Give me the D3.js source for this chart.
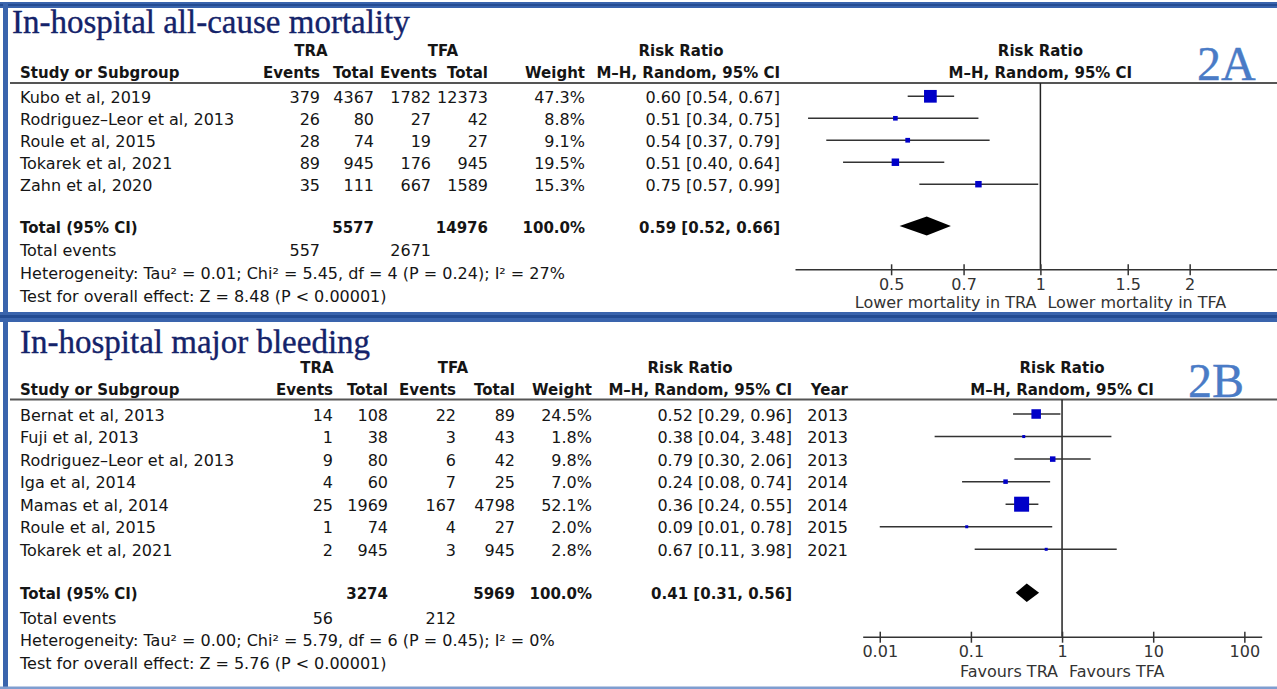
<!DOCTYPE html>
<html>
<head>
<meta charset="utf-8">
<script src="https://cdn.jsdelivr.net/npm/d3@7"></script>
<style>
  body { margin: 0; background: #fff; }
  svg { display: block; font-family: "DejaVu Sans", sans-serif; }
</style>
</head>
<body>
<div id="chart"></div>
<script>
// ---- Panel A: in-hospital all-cause mortality ----
const studiesA = ["Kubo et al, 2019", "Rodriguez–Leor et al, 2013", "Roule et al, 2015", "Tokarek et al, 2021", "Zahn et al, 2020"];
const traEventsA = [379, 26, 28, 89, 35];
const traTotalA = [4367, 80, 74, 945, 111];
const tfaEventsA = [1782, 27, 19, 176, 667];
const tfaTotalA = [12373, 42, 27, 945, 1589];
const weightA = [47.3, 8.8, 9.1, 19.5, 15.3];
const rrA = [0.60, 0.51, 0.54, 0.51, 0.75];
const lowA = [0.54, 0.34, 0.37, 0.40, 0.57];
const highA = [0.67, 0.75, 0.79, 0.64, 0.99];
const pooledA = [0.59, 0.52, 0.66];          // RR, low, high
const totalsA = [5577, 14976];               // TRA total, TFA total
const totalEventsA = [557, 2671];
const hetA = "Heterogeneity: Tau² = 0.01; Chi² = 5.45, df = 4 (P = 0.24); I² = 27%";
const testA = "Test for overall effect: Z = 8.48 (P < 0.00001)";
const ticksA = [0.5, 0.7, 1, 1.5, 2];
const axisDomainA = [0.32, 3];
const favoursA = ["Lower mortality in TRA", "Lower mortality in TFA"];

// ---- Panel B: in-hospital major bleeding ----
const studiesB = ["Bernat et al, 2013", "Fuji et al, 2013", "Rodriguez–Leor et al, 2013", "Iga et al, 2014", "Mamas et al, 2014", "Roule et al, 2015", "Tokarek et al, 2021"];
const traEventsB = [14, 1, 9, 4, 25, 1, 2];
const traTotalB = [108, 38, 80, 60, 1969, 74, 945];
const tfaEventsB = [22, 3, 6, 7, 167, 4, 3];
const tfaTotalB = [89, 43, 42, 25, 4798, 27, 945];
const weightB = [24.5, 1.8, 9.8, 7.0, 52.1, 2.0, 2.8];
const rrB = [0.52, 0.38, 0.79, 0.24, 0.36, 0.09, 0.67];
const lowB = [0.29, 0.04, 0.30, 0.08, 0.24, 0.01, 0.11];
const highB = [0.96, 3.48, 2.06, 0.74, 0.55, 0.78, 3.98];
const yearB = [2013, 2013, 2013, 2014, 2014, 2015, 2021];
const pooledB = [0.41, 0.31, 0.56];
const totalsB = [3274, 5969];
const totalEventsB = [56, 212];
const hetB = "Heterogeneity: Tau² = 0.00; Chi² = 5.79, df = 6 (P = 0.45); I² = 0%";
const testB = "Test for overall effect: Z = 5.76 (P < 0.00001)";
const ticksB = [0.01, 0.1, 1, 10, 100];
const axisDomainB = [0.0065, 155];
const favoursB = ["Favours TRA", "Favours TFA"];

const W = 1277, H = 689;
const FS = 16, FS_BOLD = 15;
const TEXT = "#151515";

const svg = d3.select("#chart").append("svg")
    .attr("width", W)
    .attr("height", H);

const f2 = d3.format(".2f");
const ciText = (r, l, h) => `${f2(r)} [${f2(l)}, ${f2(h)}]`;

function txt(g, x, y, s, anchor, bold) {
    return g.append("text")
        .attr("x", x)
        .attr("y", y)
        .attr("text-anchor", anchor || "start")
        .attr("font-size", bold ? FS_BOLD : FS)
        .attr("font-weight", bold ? "bold" : "normal")
        .attr("fill", TEXT)
        .text(s);
}

function drawPanel(p) {
    const g = svg.append("g");

    // title + panel tag
    g.append("text")
        .attr("x", p.titleX).attr("y", p.titleY)
        .attr("font-family", "'Liberation Serif', 'Times New Roman', serif")
        .attr("font-size", 33)
        .attr("fill", "#14236a")
        .attr("stroke", "#14236a").attr("stroke-width", 0.35)
        .text(p.title);
    g.append("text")
        .attr("x", p.tagX).attr("y", p.tagY)
        .attr("font-family", "'Liberation Serif', 'Times New Roman', serif")
        .attr("font-size", 48)
        .attr("fill", "#4a7bc6")
        .attr("stroke", "#4a7bc6").attr("stroke-width", 0.4)
        .text(p.tag);

    const c = p.cols;
    const x = d3.scaleLog().domain(p.axisDomain).range(p.axisRange);
    const x1 = x(1);

    // header rows
    const h1 = p.headY, h2 = p.headY + 22;
    txt(g, c.traLabel, h1, "TRA", "middle", true);
    txt(g, c.tfaLabel, h1, "TFA", "middle", true);
    txt(g, c.rrLabel, h1, "Risk Ratio", "middle", true);
    txt(g, x1, h1, "Risk Ratio", "middle", true);
    txt(g, 20, h2, "Study or Subgroup", "start", true);
    txt(g, c.ev1, h2, "Events", "end", true);
    txt(g, c.tot1, h2, "Total", "end", true);
    txt(g, c.ev2Head, h2, "Events", "end", true);
    txt(g, c.tot2, h2, "Total", "end", true);
    txt(g, c.wt, h2, "Weight", "end", true);
    txt(g, c.ci, h2, "M–H, Random, 95% CI", "end", true);
    if (p.year) txt(g, c.yr, h2, "Year", "end", true);
    txt(g, x1, h2, "M–H, Random, 95% CI", "middle", true);

    g.append("line")
        .attr("x1", 10).attr("x2", W)
        .attr("y1", p.lineY).attr("y2", p.lineY)
        .attr("stroke", "#555").attr("stroke-width", 2);

    // study rows
    const y = d3.scalePoint().domain(p.studies).range(p.rowRange);
    const dy = p.textDy;
    p.studies.forEach((s, i) => {
        const ty = y(s) + dy;
        txt(g, 20, ty, s);
        txt(g, c.ev1, ty, p.traEv[i], "end");
        txt(g, c.tot1, ty, p.traTot[i], "end");
        txt(g, c.ev2, ty, p.tfaEv[i], "end");
        txt(g, c.tot2, ty, p.tfaTot[i], "end");
        txt(g, c.wt, ty, p.weight[i].toFixed(1) + "%", "end");
        txt(g, c.ci, ty, ciText(p.rr[i], p.low[i], p.high[i]), "end");
        if (p.year) txt(g, c.yr, ty, p.year[i], "end");
    });

    // total and footer rows
    const ft = p.footY;
    txt(g, 20, ft[0] + dy, "Total (95% CI)", "start", true);
    txt(g, c.tot1, ft[0] + dy, p.totals[0], "end", true);
    txt(g, c.tot2, ft[0] + dy, p.totals[1], "end", true);
    txt(g, c.wt, ft[0] + dy, "100.0%", "end", true);
    txt(g, c.ci, ft[0] + dy, ciText(...p.pooled), "end", true);
    txt(g, 20, ft[1] + dy, "Total events");
    txt(g, c.ev1, ft[1] + dy, p.totalEvents[0], "end");
    txt(g, c.ev2, ft[1] + dy, p.totalEvents[1], "end");
    txt(g, 20, ft[2] + dy, p.het);
    txt(g, 20, ft[3] + dy, p.test);

    // null line
    g.append("line")
        .attr("x1", x1).attr("x2", x1)
        .attr("y1", p.lineY).attr("y2", p.axisY)
        .attr("stroke", "#222").attr("stroke-width", 1.5);

    // CI whiskers
    g.selectAll(".ci")
        .data(p.studies)
        .enter().append("line")
        .attr("x1", (d, i) => x(p.low[i]))
        .attr("x2", (d, i) => x(p.high[i]))
        .attr("y1", d => y(d)).attr("y2", d => y(d))
        .attr("stroke", "#333").attr("stroke-width", 1.5);

    // weight squares
    const size = d3.scalePow().exponent(0.6)
        .domain([0, d3.max(p.weight)])
        .range([0, p.maxSquare]);
    const side = i => Math.max(3, size(p.weight[i]));
    g.selectAll(".sq")
        .data(p.studies)
        .enter().append("rect")
        .attr("x", (d, i) => x(p.rr[i]) - side(i) / 2)
        .attr("y", (d, i) => y(d) - side(i) / 2)
        .attr("width", (d, i) => side(i))
        .attr("height", (d, i) => side(i))
        .attr("fill", "#0000c8");

    // pooled diamond
    const dyD = ft[0], hh = p.diamondH;
    g.append("path")
        .attr("d", `M${x(p.pooled[1])},${dyD} L${x(p.pooled[0])},${dyD - hh} L${x(p.pooled[2])},${dyD} L${x(p.pooled[0])},${dyD + hh} Z`)
        .attr("fill", "#000");

    // axis
    const ax = g.append("g")
        .attr("transform", `translate(0,${p.axisY})`)
        .call(d3.axisBottom(x).tickValues(p.ticks).tickSize(6).tickSizeOuter(0).tickFormat(d => String(d)));
    ax.select(".domain").attr("stroke", "#333").attr("stroke-width", 1.5);
    ax.selectAll(".tick line").attr("y1", -5).attr("stroke", "#333").attr("stroke-width", 1.5);
    ax.selectAll(".tick text")
        .attr("font-family", "'DejaVu Sans', sans-serif")
        .attr("font-size", FS)
        .attr("fill", "#333");

    txt(g, x1 - 4, p.favY, p.favours[0], "end").attr("fill", "#333");
    txt(g, x1 + 7, p.favY, p.favours[1], "start").attr("fill", "#333");
}

drawPanel({
    title: "In-hospital all-cause mortality", titleX: 12, titleY: 33,
    tag: "2A", tagX: 1197, tagY: 80,
    headY: 56, lineY: 83,
    cols: { traLabel: 311, tfaLabel: 443, rrLabel: 681, ev1: 320, tot1: 374, ev2: 431, ev2Head: 437, tot2: 488, wt: 585, ci: 780 },
    studies: studiesA, traEv: traEventsA, traTot: traTotalA, tfaEv: tfaEventsA, tfaTot: tfaTotalA,
    weight: weightA, rr: rrA, low: lowA, high: highA,
    pooled: pooledA, totals: totalsA, totalEvents: totalEventsA, het: hetA, test: testA,
    rowRange: [96.3, 184.2], textDy: 6.5, footY: [226, 249.5, 272, 295],
    axisDomain: axisDomainA, axisRange: [795, 1277], axisY: 269.3, ticks: ticksA,
    favours: favoursA, favY: 308, maxSquare: 12.7, diamondH: 9.5
});

drawPanel({
    title: "In-hospital major bleeding", titleX: 20, titleY: 353,
    tag: "2B", tagX: 1188, tagY: 397,
    headY: 373, lineY: 399.5,
    cols: { traLabel: 317, tfaLabel: 453, rrLabel: 690, ev1: 333, tot1: 388, ev2: 456, ev2Head: 456, tot2: 515, wt: 592, ci: 792, yr: 848 },
    studies: studiesB, traEv: traEventsB, traTot: traTotalB, tfaEv: tfaEventsB, tfaTot: tfaTotalB,
    weight: weightB, rr: rrB, low: lowB, high: highB, year: yearB,
    pooled: pooledB, totals: totalsB, totalEvents: totalEventsB, het: hetB, test: testB,
    rowRange: [414, 549.3], textDy: 6.5, footY: [592.7, 617, 639, 662],
    axisDomain: axisDomainB, axisRange: [862.7, 1261.7], axisY: 636.7, ticks: ticksB,
    favours: favoursB, favY: 677, maxSquare: 15, diamondH: 9.2
});

// blue frame
const frame = svg.append("g");
frame.append("rect").attr("x", 0).attr("y", 2).attr("width", W).attr("height", 6).attr("fill", "#3a64ad");
frame.append("rect").attr("x", 0).attr("y", 4).attr("width", W).attr("height", 2).attr("fill", "#244c93");
frame.append("rect").attr("x", 3).attr("y", 2).attr("width", 5).attr("height", H - 2).attr("fill", "#3a64ad");
frame.append("rect").attr("x", 0).attr("y", 312).attr("width", W).attr("height", 10).attr("fill", "#3a64ad");
frame.append("rect").attr("x", 0).attr("y", 315).attr("width", W).attr("height", 3).attr("fill", "#244c93");
frame.append("rect").attr("x", 0).attr("y", 686.5).attr("width", W).attr("height", 2.5).attr("fill", "#7f9dd0");
</script>
</body>
</html>
